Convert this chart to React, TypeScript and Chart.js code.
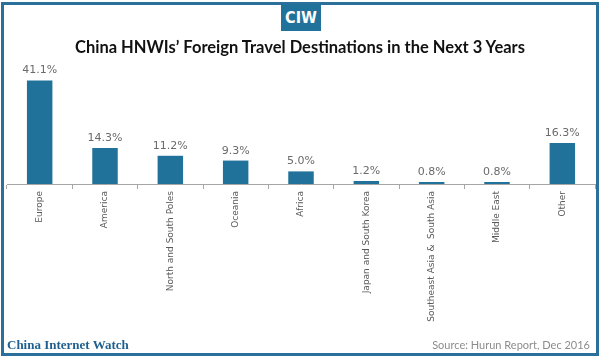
import React, { useEffect, useRef } from "react";
import { Chart, registerables } from "chart.js";

Chart.register(...registerables);

const categories = [
  "Europe",
  "America",
  "North and South Poles",
  "Oceania",
  "Africa",
  "Japan and South Korea",
  "Southeast Asia &  South Asia",
  "Middle East",
  "Other",
];
const shares = [41.1, 14.3, 11.2, 9.3, 5.0, 1.2, 0.8, 0.8, 16.3];
const valueLabels = ["41.1%", "14.3%", "11.2%", "9.3%", "5.0%", "1.2%", "0.8%", "0.8%", "16.3%"];

const BLUE = "#21729a";
const FRAME = "#2b6f9b";

const valueLabelPlugin = {
  id: "valueLabels",
  afterDatasetsDraw(chart: any) {
    const ctx = chart.ctx;
    const meta = chart.getDatasetMeta(0);
    ctx.save();
    ctx.font = "11px 'DejaVu Sans'";
    ctx.fillStyle = "#6b6b6b";
    ctx.textAlign = "center";
    ctx.textBaseline = "alphabetic";
    meta.data.forEach((bar: any, i: number) => {
      ctx.fillText(valueLabels[i], bar.x, bar.y - 7);
    });
    ctx.restore();
  },
};

export default function App() {
  const ref = useRef<HTMLCanvasElement | null>(null);
  useEffect(() => {
    document.body.style.margin = "0";
    const chart = new Chart(ref.current as HTMLCanvasElement, {
      type: "bar",
      data: {
        labels: categories,
        datasets: [
          {
            data: shares,
            backgroundColor: BLUE,
            borderWidth: 0,
            barPercentage: 0.39,
            categoryPercentage: 1,
          },
        ],
      },
      options: {
        animation: false,
        responsive: false,
        maintainAspectRatio: false,
        layout: { padding: { left: 7, right: 5, top: 58, bottom: 25 } },
        plugins: { legend: { display: false }, tooltip: { enabled: false }, title: { display: false } },
        scales: {
          y: { display: false, min: 0, max: 50 },
          x: {
            afterFit: (axis: any) => {
              axis.height = 150;
            },
            border: { display: true, color: "#a6a6a6", width: 1 },
            grid: {
              display: true,
              drawOnChartArea: false,
              drawTicks: true,
              tickLength: 5,
              color: "#a6a6a6",
              offset: true,
            },
            ticks: {
              minRotation: 90,
              maxRotation: 90,
              autoSkip: false,
              padding: 2,
              color: "#595959",
              font: { family: "'DejaVu Sans'", size: 9 },
            },
          },
        },
      },
      plugins: [valueLabelPlugin],
    });
    return () => chart.destroy();
  }, []);

  return (
    <div style={{ position: "fixed", left: 0, top: 0, width: 600, height: 359, background: "#fff", overflow: "hidden" }}>
      <div
        style={{
          position: "absolute",
          left: 1,
          top: 2,
          width: 592,
          height: 348,
          border: `3px solid ${FRAME}`,
        }}
      />
      <canvas ref={ref} width={600} height={359} style={{ position: "absolute", left: 0, top: 0 }} />
      <div
        style={{
          position: "absolute",
          left: 281,
          top: 4,
          width: 40,
          height: 27,
          background: BLUE,
          color: "#fff",
          fontFamily: "'DejaVu Sans Condensed'",
          fontWeight: "bold",
          fontSize: 16,
          lineHeight: "27px",
          textAlign: "center",
        }}
      >
        CIW
      </div>
      <div
        style={{
          position: "absolute",
          left: 0,
          top: 37,
          width: 600,
          textAlign: "center",
          fontFamily: "Lato",
          fontWeight: "bold",
          fontSize: 16.5,
          color: "#111",
        }}
      >
        China HNWIs’ Foreign Travel Destinations in the Next 3 Years
      </div>
      <div
        style={{
          position: "absolute",
          left: 7,
          top: 337,
          fontFamily: "'Liberation Serif'",
          fontWeight: "bold",
          fontSize: 13,
          color: "#1f5f8f",
        }}
      >
        China Internet Watch
      </div>
      <div
        style={{
          position: "absolute",
          right: 10,
          top: 338,
          fontFamily: "Lato",
          fontSize: 11,
          color: "#8c8c8c",
        }}
      >
        Source: Hurun Report, Dec 2016
      </div>
    </div>
  );
}
